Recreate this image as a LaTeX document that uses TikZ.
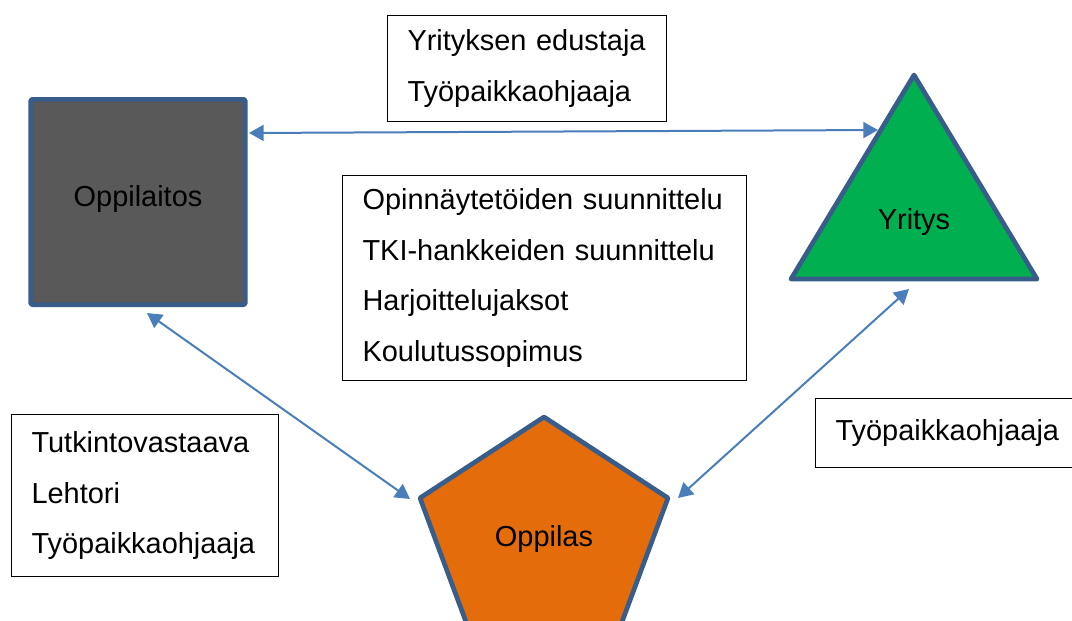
\documentclass[tikz,border=0pt]{standalone}
\usepackage{fontspec}
\setmainfont{Liberation Sans}
\usepackage{tikz}
\usepackage{xcolor}
\usetikzlibrary{arrows.meta}
\definecolor{kehys}{HTML}{385D8A}
\definecolor{harmaa}{HTML}{595959}
\definecolor{vihrea}{HTML}{00B050}
\definecolor{oranssi}{HTML}{E46C0A}
\definecolor{sininen}{HTML}{4A7EBB}

\begin{document}
\begin{tikzpicture}[x=0.75pt,y=-0.75pt,
        teksti/.style={font=\fontsize{21.7}{38}\selectfont},
        laatikko/.style={teksti,draw=black,line width=0.8pt,anchor=north west,inner xsep=15pt,align=left},
        muoto/.style={draw=kehys,line width=3.5pt,line join=round},
        nuoli/.style={draw=sininen,line width=1.5pt,{Triangle[length=11pt,width=12pt]}-{Triangle[length=11pt,width=12pt]}}]
            \useasboundingbox (0,0) rectangle (1072,621);
            \clip (0,0) rectangle (1072,621);

            \node[muoto,fill=harmaa,rounded corners=1.5pt,minimum width=161pt,minimum height=154pt,
                label={[teksti,yshift=2.5pt]center:Oppilaitos}] (oppilaitos) at (138,202) {};

            \draw[muoto,fill=vihrea] (914,75) -- (1037,279) -- (791,279) -- cycle;
            \node[teksti] (yritys) at (914,222) {Yritys};

            \draw[muoto,fill=oranssi] (544,417) -- (668,498) -- (606,665) -- (482,665) -- (420,498) -- cycle;
            \node[teksti] (oppilas) at (544,539) {Oppilas};

            \node[laatikko,text width=179pt,minimum height=79.5pt] (edustus) at (387,15)
                {Yrityksen edustaja\\Työpaikkaohjaaja};
            \node[laatikko,text width=273pt,minimum height=153.75pt] (yhteistyo) at (342,175)
                {Opinnäytetöiden suunnittelu\\TKI-hankkeiden suunnittelu\\Harjoittelujaksot\\Koulutussopimus};
            \node[laatikko,text width=170pt,minimum height=121.5pt] (oppilaitosroolit) at (11,414)
                {Tutkintovastaava\\Lehtori\\Työpaikkaohjaaja};
            \node[laatikko,text width=195pt,minimum height=51.75pt] (ohjaaja) at (815,398)
                {Työpaikkaohjaaja};

            \coordinate (oppilaitos-oikea) at (249,133);
            \coordinate (oppilaitos-ala) at (147,313);
            \coordinate (yritys-vasen) at (878,130);
            \coordinate (yritys-ala) at (909,289);
            \coordinate (oppilas-vasen) at (410,499);
            \coordinate (oppilas-oikea) at (678,498);

            \draw[nuoli] (oppilaitos-oikea) -- (yritys-vasen);
            \draw[nuoli] (oppilaitos-ala) -- (oppilas-vasen);
            \draw[nuoli] (yritys-ala) -- (oppilas-oikea);
        \end{tikzpicture}
\end{document}
